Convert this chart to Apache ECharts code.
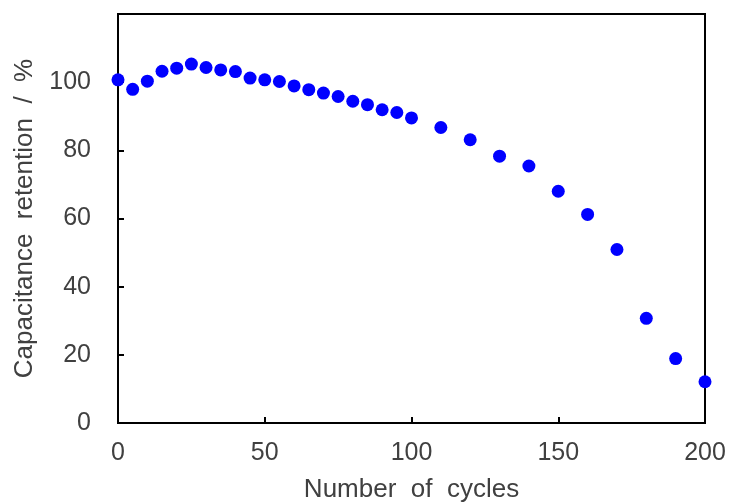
<!DOCTYPE html>
<html>
<head>
<meta charset="utf-8">
<script src="https://cdn.jsdelivr.net/npm/echarts@6/dist/echarts.min.js"></script>
<style>html,body{margin:0;padding:0;background:#fff}#c{width:731px;height:502px}</style>
</head>
<body>
<div id="c"></div>
<script>
const cycles = [0,5,10,15,20,25,30,35,40,45,50,55,60,65,70,75,80,85,90,95,100,110,120,130,140,150,160,170,180,190,200];
const retention = [100.7,97.9,100.3,103.2,104.1,105.3,104.3,103.6,103.1,101.2,100.7,100.2,98.9,97.8,96.8,95.8,94.4,93.4,91.9,91.1,89.5,86.7,83.1,78.3,75.4,68.0,61.2,50.9,30.7,18.9,12.1];
const xTitle = 'Number  of  cycles';
const yTitle = 'Capacitance  retention  /  %';

const chart = echarts.init(document.getElementById('c'));
const txt = '#404040';
const font = 'Liberation Sans, Arial, sans-serif';
chart.setOption({
  animation: false,
  grid: {left: 118, right: 26, top: 14, bottom: 79, outerBoundsMode: 'none', containLabel: false, show: true, borderColor: '#000', borderWidth: 2, backgroundColor: 'transparent'},
  xAxis: {
    type: 'value', min: 0, max: 200, interval: 50,
    name: xTitle, nameLocation: 'middle', nameGap: 54,
    nameTextStyle: {fontSize: 26, color: txt, fontFamily: font},
    axisLine: {show: true, onZero: false, lineStyle: {color: '#000', width: 2}},
    axisTick: {show: true, inside: true, length: 6, lineStyle: {color: '#000', width: 2}},
    axisLabel: {fontSize: 25, color: txt, fontFamily: font, margin: 18},
    splitLine: {show: false}
  },
  yAxis: {
    type: 'value', min: 0, max: 120, interval: 20,
    name: yTitle, nameLocation: 'middle', nameGap: 80,
    nameTextStyle: {fontSize: 26, color: txt, fontFamily: font},
    axisLine: {show: true, onZero: false, lineStyle: {color: '#000', width: 2}},
    axisTick: {show: true, inside: true, length: 6, lineStyle: {color: '#000', width: 2}},
    axisLabel: {fontSize: 25, color: txt, fontFamily: font, margin: 27, formatter: v => v > 100 ? '' : String(v)},
    splitLine: {show: false}
  },
  series: [{
    type: 'scatter',
    data: cycles.map((c, i) => [c, retention[i]]),
    symbolSize: 13,
    clip: false,
    itemStyle: {color: '#0000FF', opacity: 1}
  }]
});
</script>
</body>
</html>
